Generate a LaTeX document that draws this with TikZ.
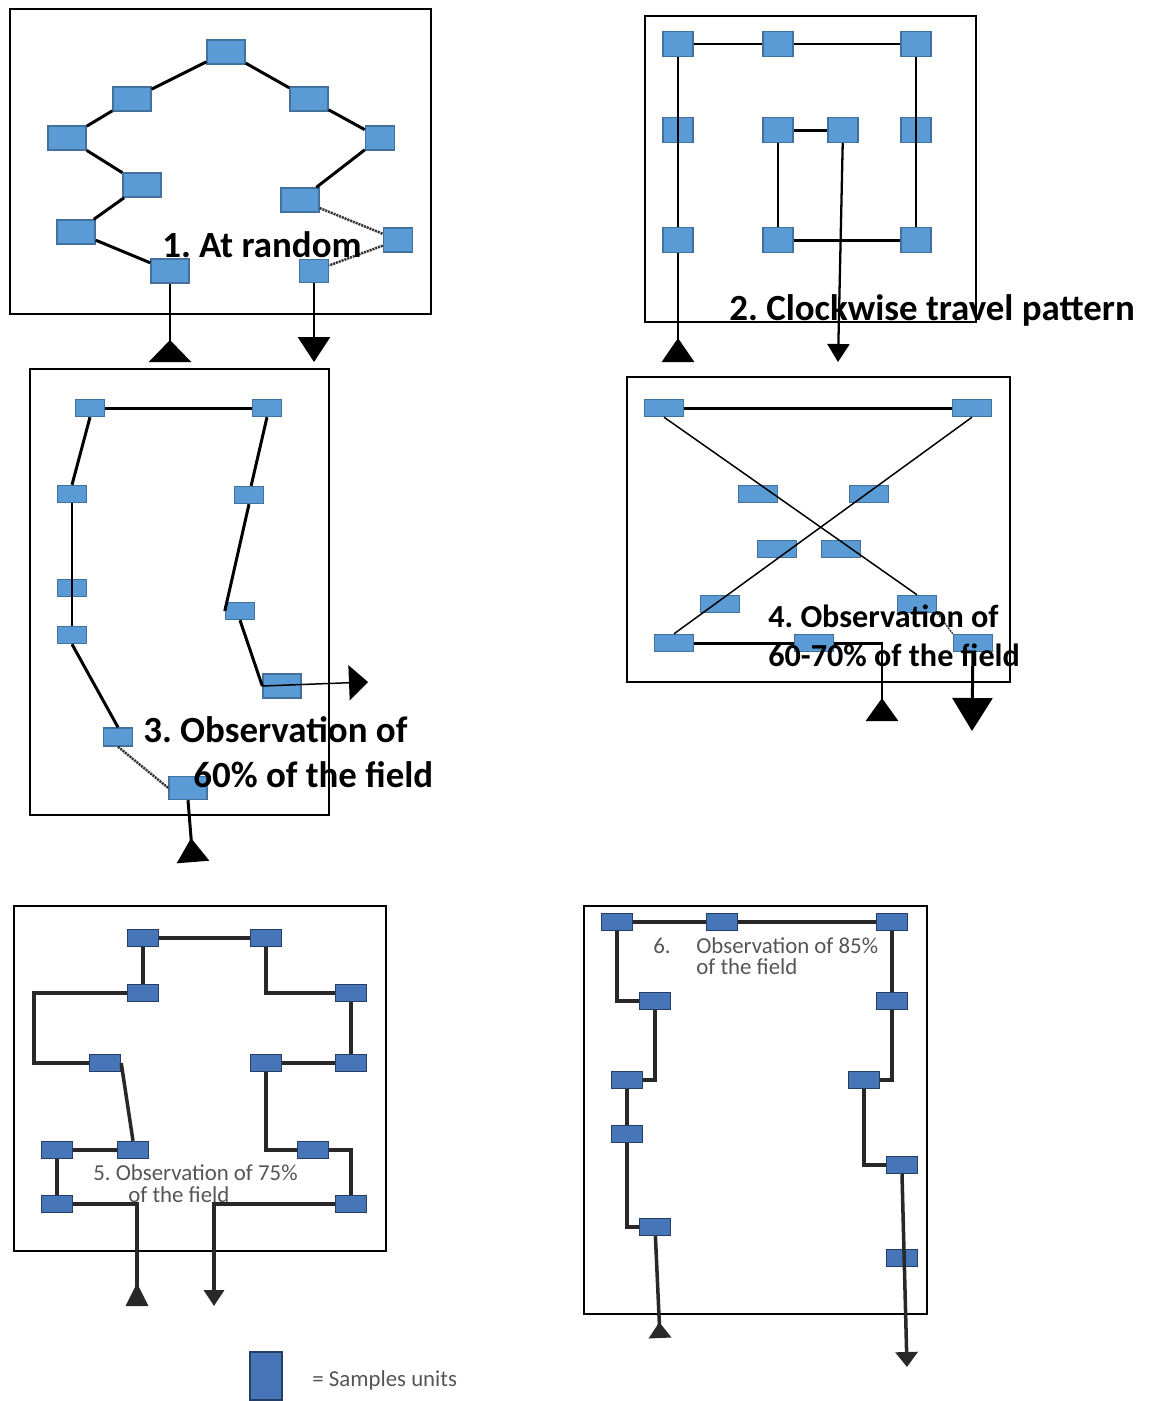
\documentclass[tikz,border=0pt]{standalone}
\usepackage{fontspec}
\setmainfont{Carlito}
\usetikzlibrary{arrows.meta,backgrounds}

\definecolor{unitfill}{RGB}{91,155,213}
\definecolor{unitborder}{RGB}{65,113,156}
\definecolor{darkfill}{RGB}{70,118,184}
\definecolor{darkborder}{RGB}{36,62,104}
\definecolor{linegray}{RGB}{40,40,40}
\definecolor{textgray}{RGB}{85,85,85}

\newcommand{\fieldhead}{\bfseries\fontsize{21}{24}\selectfont}
\newcommand{\fieldheadsmall}{\bfseries\fontsize{18.3}{21}\selectfont}
\newcommand{\fieldnote}{\fontsize{13}{15}\selectfont}
\frenchspacing

\begin{document}
\begin{tikzpicture}[x=0.02cm, y=-0.02cm]
\tikzstyle{unit} = [rectangle, draw=unitborder, fill=unitfill, line width=0.8pt,
inner sep=0pt, minimum width=0.76cm, minimum height=0.48cm]
\tikzstyle{unit_narrow} = [unit, minimum width=0.58cm]
\tikzstyle{unit_square} = [unit, minimum width=0.6cm, minimum height=0.5cm]
\tikzstyle{unit_flat} = [unit, minimum width=0.58cm, minimum height=0.34cm]
\tikzstyle{unit_bar} = [unit, minimum width=0.78cm, minimum height=0.34cm]
\tikzstyle{unit_dark} = [unit, draw=darkborder, fill=darkfill,
minimum width=0.62cm, minimum height=0.34cm]
\tikzstyle{field} = [draw, line width=1.1pt]
\tikzstyle{line} = [draw, line width=1.7pt]
\tikzstyle{line_thin} = [draw, line width=0.85pt]
\tikzstyle{line_dotted} = [draw=black!80, line width=1.4pt, dash pattern=on 1.2pt off 0.5pt]
\tikzstyle{line_gray} = [draw=linegray, line width=2pt]
\tikzstyle{title} = [font=\fieldhead, inner sep=0pt, anchor=base west]
\tikzstyle{title_small} = [font=\fieldheadsmall, inner sep=0pt, anchor=base west]
\tikzstyle{note} = [font=\fieldnote, text=textgray, inner sep=0pt, anchor=base west]
\useasboundingbox (0,0) rectangle (1162,1401);

% panel 1
\path [field] (10,9) rectangle (431,314);
\node [unit] (a1) at (226,52) {};
\node [unit] (a2) at (132,99) {};
\node [unit] (a3) at (67,138) {};
\node [unit] (a4) at (142,185) {};
\node [unit] (a5) at (76,232) {};
\node [unit] (a6) at (170,271) {};
\node [unit] (a7) at (309,99) {};
\node [unit_narrow] (a8) at (380,138) {};
\node [unit] (a9) at (300,200) {};
\node [unit_narrow] (a10) at (398,240) {};
\node [unit_narrow, minimum height=0.46cm] (a11) at (314,271) {};
\coordinate (a_in) at (170,362);
\coordinate (a_out) at (314,362);
\path [line] (a3) -- (a2);
\path [line] (a2) -- (a1);
\path [line] (a1) -- (a7);
\path [line] (a7) -- (a8);
\path [line] (a8) -- (a9);
\path [line] (a3) -- (a4);
\path [line] (a4) -- (a5);
\path [line] (a5) -- (a6);
\path [line_dotted] (a9) -- (a10);
\path [line_dotted] (a10) -- (a11);
\path [line, -{Triangle[reversed, length=0.44cm, width=0.84cm]}] (a6) -- (a_in);
\path [line, -{Triangle[length=0.5cm, width=0.64cm]}] (a11) -- (a_out);
\node [title] (a_lbl) at (162,257) {1. At random};

% panel 2
\path [field] (645,16) rectangle (976,322);
\node [unit_square] (b1) at (678,44) {};
\node [unit_square] (b2) at (778,44) {};
\node [unit_square] (b3) at (916,44) {};
\node [unit_square] (b4) at (678,130) {};
\node [unit_square] (b5) at (778,130) {};
\node [unit_square] (b6) at (843,130) {};
\node [unit_square] (b7) at (916,130) {};
\node [unit_square] (b8) at (678,240) {};
\node [unit_square] (b9) at (778,240) {};
\node [unit_square] (b10) at (916,240) {};
\coordinate (b_in) at (678,362);
\coordinate (b_out) at (838,362);
\path [line_thin] (b1) -- (b2);
\path [line_thin] (b2) -- (b3);
\path [line_thin] (b3.south) -- (b10.north);
\path [line] (b1.south) -- (b8.north);
\path [line] (b5) -- (b6);
\path [line] (b5) -- (b9);
\path [line] (b9) -- (b10);
\path [line, -{Triangle[reversed, length=0.48cm, width=0.64cm]}] (b8) -- (b_in);
\path [draw, line width=1.3pt, -{Triangle[length=0.36cm, width=0.44cm]}] (b6) -- (b_out);
\node [title] (b_lbl) at (729,320) {2. Clockwise travel pattern};

% panel 3
\path [field] (30,369) rectangle (329,815);
\node [unit_flat] (c1) at (90,408) {};
\node [unit_flat] (c2) at (267,408) {};
\node [unit_flat] (c3) at (72,494) {};
\node [unit_flat] (c4) at (249,495) {};
\node [unit_flat] (c5) at (72,588) {};
\node [unit_flat] (c6) at (240,611) {};
\node [unit_flat] (c7) at (72,635) {};
\node [unit] (c8) at (282,686) {};
\node [unit_flat, minimum height=0.36cm] (c9) at (118,737) {};
\node [unit, minimum height=0.46cm] (c10) at (188,788) {};
\coordinate (c_out) at (368,682);
\coordinate (c_in) at (193,862);
\path [line] (c1) -- (c2);
\path [line] (c1.south) -- (c3.north);
\path [line] (c2.south) -- (c4);
\path [line] (c4.south) -- (c6.west);
\path [line] (c6.south) -- (c8.west);
\path [line_thin] (c3.south) -- (c7.north);
\path [line] (c7.south) -- (c9.north);
\path [line_dotted] (c9.south) -- (c10.west);
\path [line_thin, -{Triangle[length=0.38cm, width=0.7cm]}] (c8.west) -- (c_out);
\path [line, -{Triangle[reversed, length=0.48cm, width=0.64cm]}] (c10.south) -- (c_in);
\node [title] (c_lbl1) at (143,742) {3. Observation of};
\node [title] (c_lbl2) at (193,787) {60\% of the field};

% panel 4
\path [field] (627,377) rectangle (1010,682);
\node [unit_bar] (d1) at (664,408) {};
\node [unit_bar] (d2) at (972,408) {};
\node [unit_bar] (d3) at (758,494) {};
\node [unit_bar] (d4) at (869,494) {};
\node [unit_bar] (d5) at (777,549) {};
\node [unit_bar] (d6) at (841,549) {};
\node [unit_bar] (d7) at (720,604) {};
\node [unit_bar] (d8) at (917,604) {};
\node [unit_bar] (d9) at (674,643) {};
\node [unit_bar] (d10) at (814,643) {};
\node [unit_bar] (d11) at (973,643) {};
\coordinate (d_in) at (882,721);
\coordinate (d_out) at (972,731);
\path [line] (d1) -- (d2);
\path [line_thin] (d1.south) -- (d8.north);
\path [line_thin] (d2.south) -- (d9.north);
\path [line_dotted, line width=0.8pt] (d8.south east) -- (d11.north west);
\path [line] (d9) -- (d10);
\path [line, -{Triangle[reversed, length=0.46cm, width=0.64cm]}] (d10.east) -| (d_in);
\path [line, -{Triangle[length=0.66cm, width=0.8cm]}] (d11) -- (d_out);
\node [title_small] (d_lbl1) at (768,627) {4. Observation of};
\node [title_small] (d_lbl2) at (768,666) {60-70\% of the field};

% panel 5
\path [field] (14,906) rectangle (386,1251);
\node [unit_dark] (e1) at (143,938) {};
\node [unit_dark] (e2) at (266,938) {};
\node [unit_dark] (e3) at (143,993) {};
\node [unit_dark] (e4) at (351,993) {};
\node [unit_dark] (e5) at (105,1063) {};
\node [unit_dark] (e6) at (266,1063) {};
\node [unit_dark] (e7) at (351,1063) {};
\node [unit_dark] (e8) at (57,1150) {};
\node [unit_dark] (e9) at (133,1150) {};
\node [unit_dark] (e10) at (313,1150) {};
\node [unit_dark] (e11) at (57,1204) {};
\node [unit_dark] (e12) at (351,1204) {};
\coordinate (e_left) at (34,1030);
\coordinate (e_in) at (137,1306);
\coordinate (e_out) at (214,1306);
\path [line_gray] (e1) -- (e2);
\path [line_gray] (e1) -- (e3);
\path [line_gray] (e3.west) -| (e_left) |- (e5.west);
\path [line_gray] (e5.east) -- (e9.north);
\path [line_gray] (e8) -- (e9);
\path [line_gray] (e8) -- (e11);
\path [line_gray] (e2) |- (e4.west);
\path [line_gray] (e4) -- (e7);
\path [line_gray] (e7) -- (e6);
\path [line_gray] (e6) |- (e10.west);
\path [line_gray] (e10.east) -| (e12.north);
\path [line_gray, -{Triangle[reversed, length=0.46cm, width=0.44cm]}] (e11.east) -| (e_in);
\path [line_gray, -{Triangle[length=0.32cm, width=0.4cm]}] (e12.west) -| (e_out);
\node [note] (e_lbl1) at (93,1180) {5. Observation of 75\%};
\node [note] (e_lbl2) at (128,1202) {of the field};

% panel 6
\path [field] (584,906) rectangle (927,1314);
\node [unit_dark] (f1) at (617,922) {};
\node [unit_dark] (f2) at (722,922) {};
\node [unit_dark] (f3) at (892,922) {};
\node [unit_dark] (f4) at (655,1001) {};
\node [unit_dark] (f5) at (892,1001) {};
\node [unit_dark] (f6) at (627,1080) {};
\node [unit_dark] (f7) at (864,1080) {};
\node [unit_dark] (f8) at (627,1134) {};
\node [unit_dark] (f9) at (902,1165) {};
\node [unit_dark] (f10) at (655,1227) {};
\node [unit_dark] (f11) at (902,1258) {};
\coordinate (f_in) at (660,1338);
\coordinate (f_out) at (907,1367);
\path [line_gray] (f1) -- (f2);
\path [line_gray] (f2) -- (f3);
\path [line_gray] (f1) |- (f4.west);
\path [line_gray] (f4) |- (f6.east);
\path [line_gray] (f6) -- (f8);
\path [line_gray] (f8) |- (f10.west);
\path [line_gray] (f3) -- (f5);
\path [line_gray] (f5) |- (f7.east);
\path [line_gray] (f7) |- (f9.west);
\path [line_gray, -{Triangle[reversed, length=0.32cm, width=0.44cm]}] (f10) -- (f_in);
\path [line_gray, -{Triangle[length=0.3cm, width=0.44cm]}] (f9.south) -- (f_out);
\node [note] (f_num) at (653,953) {6.};
\node [note] (f_lbl1) at (696,953) {Observation of 85\%};
\node [note] (f_lbl2) at (696,974) {of the field};

% legend
\node [unit_dark, minimum width=0.64cm, minimum height=0.96cm] (legend) at (266,1376) {};
\node [note] (legend_txt) at (312,1386) {= Samples units};

\end{tikzpicture}
\end{document}
